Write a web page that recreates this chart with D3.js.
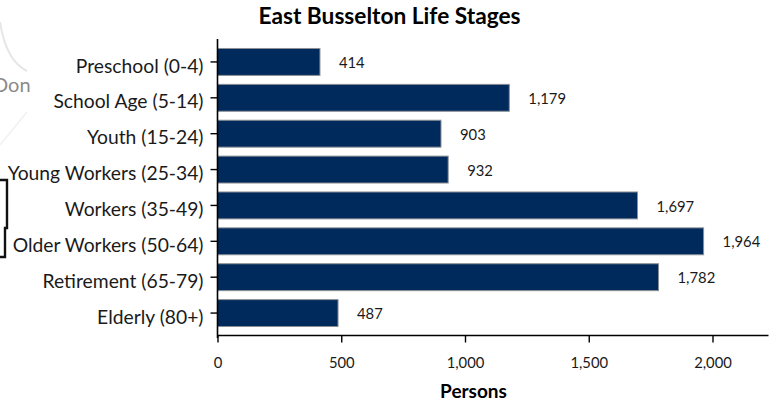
<!DOCTYPE html>
<html><head><meta charset="utf-8">
<script src="https://cdn.jsdelivr.net/npm/d3@7"></script>
<style>html,body{margin:0;background:#fff}svg{display:block}text{font-family:Lato,"Open Sans",sans-serif;fill:#1a1a1a}</style>
</head><body><svg id="c" width="776" height="403"></svg>
<script>
const categories=["Preschool (0-4)","School Age (5-14)","Youth (15-24)","Young Workers (25-34)","Workers (35-49)","Older Workers (50-64)","Retirement (65-79)","Elderly (80+)"];
const values=[414,1179,903,932,1697,1964,1782,487];
const xTicks=[0,500,1000,1500,2000];
const title="East Busselton Life Stages";
const xTitle="Persons";

const svg=d3.select("#c");
const x=d3.scaleLinear().domain([0,2000]).range([217.5,712.5]);
const y=d3.scaleBand().domain(categories).range([44,331]).paddingInner(0.25).paddingOuter(0.125);

// faded map remnants behind the chart
const bg=svg.append("g");
bg.append("path").attr("d","M0,22 C4,48 12,64 27,71").attr("fill","none").attr("stroke","#e6e6e6").attr("stroke-width",2);
bg.append("path").attr("d","M0,145 L27,112").attr("fill","none").attr("stroke","#f1f1f1").attr("stroke-width",1.5);
bg.append("text").attr("x",-7).attr("y",92).attr("font-size",20).style("fill","#8a8a8a").text("Don");
bg.append("path").attr("d","M0,180 H7 V228 H5 V257 H0").attr("fill","none").attr("stroke","#111").attr("stroke-width",2.4);

svg.selectAll("rect.bar").data(values).join("rect").attr("class","bar")
 .attr("x",x(0)).attr("y",(d,i)=>y(categories[i]))
 .attr("width",d=>x(d)-x(0)).attr("height",y.bandwidth())
 .attr("fill","#002a5c").attr("stroke","#8c8f96").attr("stroke-width",1);

svg.selectAll("text.val").data(values).join("text").attr("class","val")
 .attr("x",d=>x(d)+19).attr("y",(d,i)=>y(categories[i])+y.bandwidth()/2+1)
 .attr("dy","0.35em").attr("font-size",14.8).text(d=>d3.format(",")(d));

const gx=svg.append("g").attr("transform","translate(0,335.5)")
 .call(d3.axisBottom(x).tickValues(xTicks).tickFormat(d3.format(",")).tickSize(7).tickSizeOuter(0));
gx.select(".domain").attr("d","M217.5,0H768.5").attr("stroke","#000").attr("stroke-width",1.6);
gx.selectAll(".tick line").attr("stroke","#000").attr("stroke-width",1.4);
gx.selectAll(".tick text").attr("font-size",14.8).attr("y",21.5).style("font-family","Lato");

const gy=svg.append("g").attr("transform","translate(217.5,0)")
 .call(d3.axisLeft(y).tickSize(7).tickSizeOuter(0));
gy.select(".domain").attr("d","M0,39V338").attr("stroke","#000").attr("stroke-width",1.6);
gy.selectAll(".tick line").attr("stroke","#000").attr("stroke-width",1.4);
gy.selectAll(".tick text").attr("font-size",19.3).attr("x",-14).attr("dy","0.55em").style("font-family","Lato");

svg.append("text").attr("x",389.5).attr("y",24).attr("text-anchor","middle").attr("font-size",22.7).attr("font-weight",700).style("fill","#000").text(title);
svg.append("text").attr("x",473.5).attr("y",398).attr("text-anchor","middle").attr("font-size",19).attr("font-weight",700).style("fill","#000").text(xTitle);
</script></body></html>
